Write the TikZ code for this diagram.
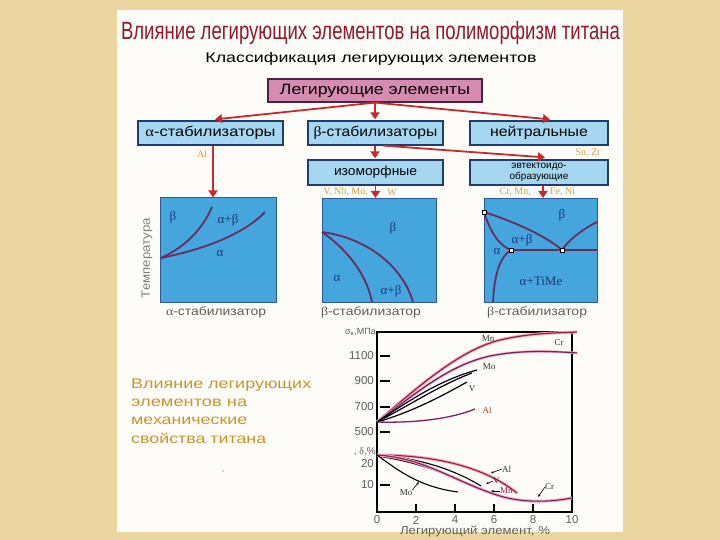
\documentclass[tikz,border=0pt]{standalone}
\usepackage{fontspec}
\usepackage{graphicx}
\setmainfont{Liberation Sans}
\newfontfamily\serif{Liberation Serif}
\usetikzlibrary{arrows.meta}
\definecolor{bgtan}{HTML}{EBD5A0}
\definecolor{panelw}{HTML}{FDFCF9}
\definecolor{titlered}{HTML}{8E1B2B}
\definecolor{boxblue}{HTML}{A6D7F0}
\definecolor{boxedge}{HTML}{1F3C6A}
\definecolor{rootpink}{HTML}{D68BB0}
\definecolor{rootedge}{HTML}{4A2543}
\definecolor{arrred}{HTML}{C42B2B}
\definecolor{elgold}{HTML}{D2A43A}
\definecolor{dblue}{HTML}{45A6DE}
\definecolor{dedge}{HTML}{2A5A9A}
\definecolor{dcurvec}{HTML}{6A2C5E}
\definecolor{glab}{HTML}{1B3A78}
\definecolor{graytxt}{HTML}{5E5E5E}
\definecolor{sidegold}{HTML}{C8952C}
\definecolor{mnred}{HTML}{9A2040}
\definecolor{crpurp}{HTML}{7A2258}
\definecolor{halo}{HTML}{F2A9C2}
\definecolor{alred}{HTML}{C0392B}
\newcommand{\fw}[2]{\resizebox{#1}{\height}{#2}}
\begin{document}
\begin{tikzpicture}[x=1pt,y=-1pt,
  box/.style={draw=boxedge, fill=boxblue, line width=1.2pt, inner sep=0pt, minimum height=24pt},
  arr/.style={draw=arrred, line width=1.8pt, -{Triangle[width=9pt,length=7pt]}},
  diag/.style={draw=dedge, fill=dblue, line width=1pt, inner sep=0pt},
  dcurve/.style={draw=dcurvec, line width=1.8pt},
  glabel/.style={text=glab, font=\serif\fontsize{13}{13}\selectfont, inner sep=0pt},
  elem/.style={text=elgold, font=\serif\fontsize{10}{10}\selectfont, inner sep=0pt},
  dlab/.style={text=graytxt, font=\fontsize{12}{12}\selectfont, inner sep=0pt},
  tick/.style={line width=1.5pt, black},
  ticklab/.style={text=graytxt, font=\fontsize{11.5}{11.5}\selectfont, inner sep=0pt},
  clab/.style={text=black!80, font=\serif\fontsize{9}{9}\selectfont, inner sep=0pt},
  sarr/.style={line width=0.6pt, -{Stealth[length=3pt]}},
  sidetxt/.style={text=sidegold, font=\fontsize{14}{14}\selectfont, inner sep=0pt, anchor=west}
]
\useasboundingbox (0,0) rectangle (720,540);
\fill[bgtan] (0,0) rectangle (720,540);
\fill[panelw] (117,10) rectangle (623,532);

% titles
\node[text=titlered, font=\fontsize{25}{25}\selectfont, inner sep=0pt] (title) at (370.5,33) {\fw{499pt}{Влияние легирующих элементов на полиморфизм титана}};
\node[text=black, font=\fontsize{14}{14}\selectfont, inner sep=0pt] (sub) at (371,59) {\fw{331pt}{Классификация легирующих элементов}};

% classification boxes
\node[box, draw=rootedge, fill=rootpink, minimum width=214pt, minimum height=23pt, font=\fontsize{15}{15}\selectfont] (root) at (375,90.5) {\fw{190pt}{Легирующие элементы}};
\node[box, minimum width=145pt, font=\fontsize{14}{14}\selectfont] (alpha) at (210.5,133) {\fw{130pt}{{\serif α}-стабилизаторы}};
\node[box, minimum width=135pt, font=\fontsize{14}{14}\selectfont] (beta) at (375.5,133) {\fw{124pt}{{\serif β}-стабилизаторы}};
\node[box, minimum width=138pt, font=\fontsize{14}{14}\selectfont] (neut) at (539,133) {\fw{98pt}{нейтральные}};
\node[box, minimum width=135pt, minimum height=25pt, font=\fontsize{13}{13}\selectfont] (iso) at (375.5,172.5) {\fw{83pt}{изоморфные}};
\node[box, minimum width=138pt, minimum height=25pt, font=\fontsize{10}{10.5}\selectfont, align=center] (eut) at (539,172.5) {эвтектоидо-\\образующие};

% phase diagrams
\node[diag, minimum width=116pt, minimum height=104pt] (d1) at (218,250) {};
\node[diag, minimum width=114pt, minimum height=104pt] (d2) at (379,250.5) {};
\node[diag, minimum width=113pt, minimum height=104pt] (d3) at (540.5,250.5) {};

% arrows
\draw[arr] (root.south) -- ([xshift=4.5pt,yshift=1pt]alpha.north);
\draw[arr] (root.south) -- ([yshift=1pt]beta.north -| root.south);
\draw[arr] (root.south) -- ([xshift=11pt,yshift=1pt]neut.north);
\draw[arr] (beta.south -| root.south) -- ([yshift=1pt]iso.north -| root.south);
\draw[arr] ([xshift=8pt]beta.south) -- ([xshift=6pt,yshift=2pt]eut.north);
\draw[arr] ([xshift=2.5pt]alpha.south) -- ([xshift=2.5pt]alpha.south |- d1.north);
\draw[arr] (iso.south) -- (iso.south |- d2.north);
\draw[arr] ([xshift=4pt]eut.south) -- ([xshift=4pt]eut.south |- d3.north);

% element labels
\node[elem] (lal) at (202,154) {Al};
\node[elem] (lsn) at (588,153) {Sn, Zr};
\node[elem, anchor=east] (lvnb) at (368,192) {V, Nb, Mo,};
\node[elem] (lw) at (392,192) {W};
\node[elem, anchor=east] (lcr) at (531,192) {Cr, Mn,};
\node[elem, anchor=west] (lfe) at (550,192) {Fe, Ni};

% diagram 1
\draw[dcurve] (161,258) .. controls (185,247) and (202,230) .. (212,207);
\draw[dcurve] (161,258) .. controls (200,250) and (242,236) .. (265,212);
\node[glabel] at (173,217) {β};
\node[glabel] at (228,220) {α+β};
\node[glabel] at (220,253) {α};
\node[dlab, rotate=90, text=graytxt!80] (temp) at (147,258) {\fw{80pt}{Температура}};
\node[dlab] (l1) at (216,312) {\fw{100pt}{{\serif α}-стабилизатор}};

% diagram 2
\draw[dcurve] (322,232) .. controls (345,248) and (366,272) .. (372,302);
\draw[dcurve] (322,232) .. controls (366,238) and (402,265) .. (413,302);
\node[glabel] at (393,228) {β};
\node[glabel] at (337,278) {α};
\node[glabel] at (391,291) {α+β};
\node[dlab] (l2) at (371,312) {\fw{100pt}{{\serif β}-стабилизатор}};

% diagram 3
\coordinate (p1) at (484,212);
\coordinate (p2) at (511,250);
\coordinate (p3) at (562,250);
\draw[dcurve] (p1) .. controls (491,234) and (500,246) .. (p2);
\draw[dcurve] (p1) .. controls (515,222) and (546,236) .. (p3);
\draw[dcurve] (p2) -- (597,250);
\draw[dcurve] (p3) .. controls (570,238) and (585,228) .. (597,222);
\draw[dcurve] (p2) .. controls (498,258) and (494,280) .. (493,302);
\foreach \p in {p1,p2,p3} \node[draw=black, fill=white, minimum size=4pt, inner sep=0pt, line width=0.6pt] at (\p) {};
\node[glabel] at (562,215) {β};
\node[glabel] at (522,240) {α+β};
\node[glabel] at (497,251) {α};
\node[glabel] at (541,281) {α+TiMe};
\node[dlab] (l3) at (537,312) {\fw{100pt}{{\serif β}-стабилизатор}};

% side text
\node[sidetxt] at (131,385) {\fw{180pt}{Влияние легирующих}};
\node[sidetxt] at (131,403) {\fw{116pt}{элементов на}};
\node[sidetxt] at (131,420.5) {\fw{116pt}{механические}};
\node[sidetxt] at (131,438) {\fw{135pt}{свойства титана}};
\fill[graytxt] (223,471) circle (0.7pt);

% chart frame
\draw[line width=1.2pt] (377,332) rectangle (572,512);
% y ticks
\foreach \y/\t in {356/1100, 381/900, 407/700, 432/500, 485/10} {
  \draw[tick] (380,\y) -- (390,\y);
  \node[ticklab, anchor=east] at (374,\y) {\t};
}
\node[ticklab, anchor=east] at (374,464) {20};
\node[ticklab, anchor=east, font=\fontsize{9}{9}\selectfont] at (376,332) {σ\textsubscript{в},МПа};
\node[ticklab, anchor=east, font=\fontsize{10}{10}\selectfont] at (376,452) {, {\serif δ},\%};
% x ticks
\foreach \i/\x in {0/377, 2/416, 4/455, 6/494, 8/533, 10/572} {
  \node[ticklab] at (\x,520) {\i};
}
\foreach \x in {416,455,494,533} \draw[tick] (\x,504) -- (\x,512);
\node[ticklab] at (475,531) {\fw{150pt}{Легирующий элемент, \%}};

% strength curves
\draw[halo, line width=3pt] (377,422) .. controls (420,385) and (460,350) .. (500,340) .. controls (530,333) and (555,333) .. (577,332);
\draw[mnred, line width=1.2pt] (377,422) .. controls (420,385) and (460,350) .. (500,340) .. controls (530,333) and (555,333) .. (577,332);
\draw[halo, line width=2.5pt] (377,422) .. controls (420,390) and (450,365) .. (490,356) .. controls (520,350) and (550,351) .. (577,353);
\draw[crpurp, line width=1.2pt] (377,422) .. controls (420,390) and (450,365) .. (490,356) .. controls (520,350) and (550,351) .. (577,353);
\draw[black!85!blue, line width=1.2pt] (377,422) .. controls (410,400) and (440,380) .. (477,370);
\draw[black, line width=1.2pt] (377,422) .. controls (410,405) and (440,385) .. (472,373);
\draw[black, line width=1.2pt] (377,422) .. controls (412,412) and (442,396) .. (467,382);
\draw[crpurp, line width=1.3pt] (377,422) .. controls (410,423) and (448,420) .. (475,409);
\node[clab] at (488,339) {Mn};
\node[clab] at (559,343) {Cr};
\node[clab] at (489,367) {Mo};
\node[clab] at (472,389) {V};
\node[clab, text=alred] at (487,410) {Al};

% ductility curves
\draw[halo, line width=3pt] (377,455) .. controls (430,455) and (482,465) .. (517,493);
\draw[mnred, line width=1.1pt] (377,455) .. controls (430,455) and (482,465) .. (517,493);
\draw[black, line width=1.1pt] (377,455) .. controls (420,458) and (455,470) .. (481,486);
\draw[black!80!red, line width=1.1pt] (377,456) .. controls (418,462) and (448,474) .. (476,488);
\draw[halo, line width=3pt] (377,455) .. controls (425,458) and (455,482) .. (500,496) .. controls (520,502) and (545,503) .. (572,498);
\draw[crpurp, line width=1.1pt] (377,455) .. controls (425,458) and (455,482) .. (500,496) .. controls (520,502) and (545,503) .. (572,498);
\draw[black, line width=1.1pt] (377,455) .. controls (395,468) and (418,487) .. (458,492);
\node[clab, anchor=west] (tal) at (502,469) {Al};
\draw[sarr] (tal.west) -- (491,473);
\node[clab, anchor=west] (tv) at (493,481) {V};
\draw[sarr] (tv.west) -- (486,484);
\node[clab, anchor=west, text=mnred] (tmn) at (500,491) {Mn};
\draw[sarr] (tmn.west) -- (491,491);
\node[clab, anchor=west] (tcr) at (545,487) {Cr};
\draw[sarr] (tcr.west) -- (538,497);
\node[clab] (tmo) at (406,493) {Mo};
\draw[sarr] (tmo.north east) -- (419,482);
\end{tikzpicture}
\end{document}
